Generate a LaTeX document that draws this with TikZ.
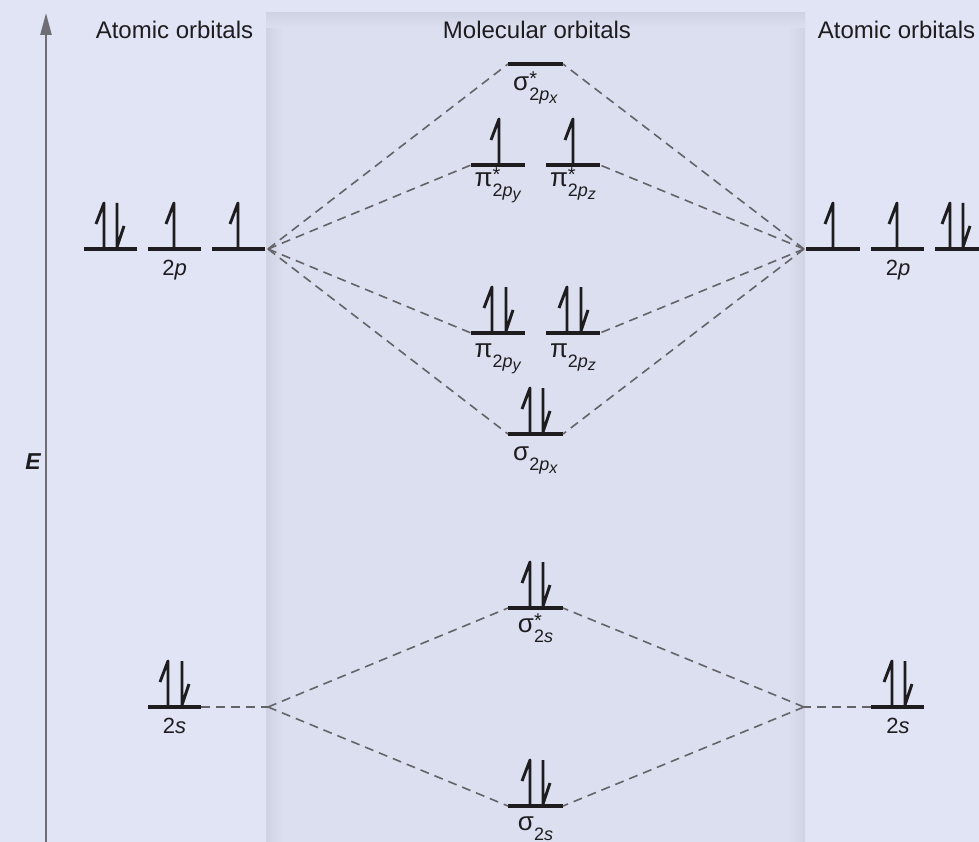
\documentclass[tikz,border=0pt]{standalone}
\usepackage{fontspec}
\setmainfont{Liberation Sans}
\usetikzlibrary{arrows.meta}
\definecolor{bgpage}{RGB}{224,228,244}
\definecolor{bgpanel}{RGB}{219,223,239}
\definecolor{bgedge}{RGB}{207,211,228}
\definecolor{inkgray}{RGB}{100,100,104}
\definecolor{axisgray}{RGB}{110,110,116}
\definecolor{inkdark}{RGB}{30,28,30}

% label of a molecular orbital: greek, orbital letter, axis, star
\newcommand{\molab}[4]{%
  {\fontsize{26}{26}\selectfont #1}%
  \makebox[0pt][l]{\raisebox{5pt}{\fontsize{20}{20}\selectfont #4}}%
  \raisebox{-10pt}{\fontsize{18}{18}\selectfont 2\textit{#2}%
    \raisebox{-3pt}{\fontsize{16}{16}\selectfont\textit{#3}}}}
% energy level: name, left x, right x, y
\newcommand{\level}[4]{%
  \coordinate (#1-l) at (#2,#4);
  \coordinate (#1-r) at (#3,#4);
  \draw[orbline] (#1-l) -- (#1-r);}
% electrons
\newcommand{\spinup}[2]{\draw[spin] (#1,#2-2) -- (#1,#2-46) -- (#1-8,#2-25);}
\newcommand{\spindn}[2]{\draw[spin] (#1,#2-46) -- (#1,#2-2) -- (#1+7,#2-23);}

\begin{document}
\begin{tikzpicture}[x=1pt,y=-1pt,
  orbline/.style={line width=4.5pt,draw=inkdark},
  spin/.style={line width=2.9pt,draw=inkdark,line join=round},
  link/.style={draw=inkgray,line width=1.6pt,dash pattern=on 9pt off 6pt},
  head/.style={font=\fontsize{24}{24}\selectfont,text=inkdark,anchor=base,inner sep=0pt},
  aolab/.style={font=\fontsize{22}{22}\selectfont,text=inkdark,anchor=base,inner sep=0pt},
  molabel/.style={text=inkdark,anchor=base,inner sep=0pt}]
  \useasboundingbox (0,0) rectangle (979,842);
  \clip (0,0) rectangle (979,842);
  % background and middle panel
  \fill[bgpage] (0,0) rectangle (979,842);
  \fill[bgpanel] (266,13) rectangle (805,842);
  \shade[left color=bgedge,right color=bgpanel] (266,13) rectangle (284,842);
  \shade[left color=bgpanel,right color=bgedge] (787,13) rectangle (805,842);
  \shade[top color=bgedge,bottom color=bgpanel] (266,13) rectangle (805,28);

  % energy axis
  \coordinate (axis-bot) at (46,842);
  \coordinate (axis-top) at (46,13);
  \draw[axisgray,line width=2.4pt,-{Triangle[length=22pt,width=11pt]}] (axis-bot) -- (axis-top);
  \node[font=\bfseries\itshape\fontsize{23}{23}\selectfont,text=inkdark] (elab) at (33,462) {E};

  % headings
  \node[head] (headL) at (174.5,39) {Atomic orbitals};
  \node[head] (headM) at (537,39) {Molecular orbitals};
  \node[head] (headR) at (896.5,39) {Atomic orbitals};

  % junction points of the dashed lines
  \coordinate (jL2p) at (268,249);
  \coordinate (jR2p) at (804,249);
  \coordinate (jL2s) at (268,707);
  \coordinate (jR2s) at (804,707);

  % left atom
  \level{L2pa}{84}{137}{249}
  \level{L2pb}{148}{201}{249}
  \level{L2pc}{212}{265}{249}
  \level{L2s}{148}{201}{707}
  \spinup{104}{249} \spindn{117}{249}
  \spinup{174}{249}
  \spinup{238}{249}
  \spinup{168}{707} \spindn{182}{707}
  \node[aolab] (lab-L2p) at (174.5,275) {2\textit{p}};
  \node[aolab] (lab-L2s) at (174.5,733) {2\textit{s}};

  % right atom
  \level{R2pa}{806}{860}{249}
  \level{R2pb}{871}{924}{249}
  \level{R2pc}{935}{989}{249}
  \level{R2s}{871}{924}{707}
  \spinup{833}{249}
  \spinup{897}{249}
  \spinup{950}{249} \spindn{963}{249}
  \spinup{892}{707} \spindn{905}{707}
  \node[aolab] (lab-R2p) at (898,275) {2\textit{p}};
  \node[aolab] (lab-R2s) at (898,733) {2\textit{s}};

  % molecular orbitals
  \level{sx2pS}{508}{563}{64}
  \level{py2pS}{471}{525}{165}
  \level{pz2pS}{546}{600}{165}
  \level{py2p}{471}{525}{333}
  \level{pz2p}{546}{600}{333}
  \level{sx2p}{508}{563}{434}
  \level{s2sS}{508}{563}{608}
  \level{s2s}{508}{563}{806}
  \spinup{499}{165}
  \spinup{573}{165}
  \spinup{492}{333} \spindn{506}{333}
  \spinup{567}{333} \spindn{581}{333}
  \spinup{530}{434} \spindn{543}{434}
  \spinup{530}{608} \spindn{543}{608}
  \spinup{530}{806} \spindn{543}{806}
  \node[molabel] (lab-sx2pS) at (535.5,91) {\molab{σ}{p}{x}{*}};
  \node[molabel] (lab-py2pS) at (498,187) {\molab{π}{p}{y}{*}};
  \node[molabel] (lab-pz2pS) at (573,187) {\molab{π}{p}{z}{*}};
  \node[molabel] (lab-py2p) at (498,357) {\molab{π}{p}{y}{}};
  \node[molabel] (lab-pz2p) at (573,357) {\molab{π}{p}{z}{}};
  \node[molabel] (lab-sx2p) at (535.5,460) {\molab{σ}{p}{x}{}};
  \node[molabel] (lab-s2sS) at (535.5,632) {\molab{σ}{s}{}{*}};
  \node[molabel] (lab-s2s) at (535.5,830) {\molab{σ}{s}{}{}};

  % dashed correlation lines
  \draw[link] (jL2p) -- (sx2pS-l);
  \draw[link] (jL2p) -- (py2pS-l);
  \draw[link] (jL2p) -- (py2p-l);
  \draw[link] (jL2p) -- (sx2p-l);
  \draw[link] (jR2p) -- (sx2pS-r);
  \draw[link] (jR2p) -- (pz2pS-r);
  \draw[link] (jR2p) -- (pz2p-r);
  \draw[link] (jR2p) -- (sx2p-r);
  \draw[link] (L2s-r) -- (jL2s);
  \draw[link] (jL2s) -- (s2sS-l);
  \draw[link] (jL2s) -- (s2s-l);
  \draw[link] (R2s-l) -- (jR2s);
  \draw[link] (jR2s) -- (s2sS-r);
  \draw[link] (jR2s) -- (s2s-r);
\end{tikzpicture}
\end{document}
